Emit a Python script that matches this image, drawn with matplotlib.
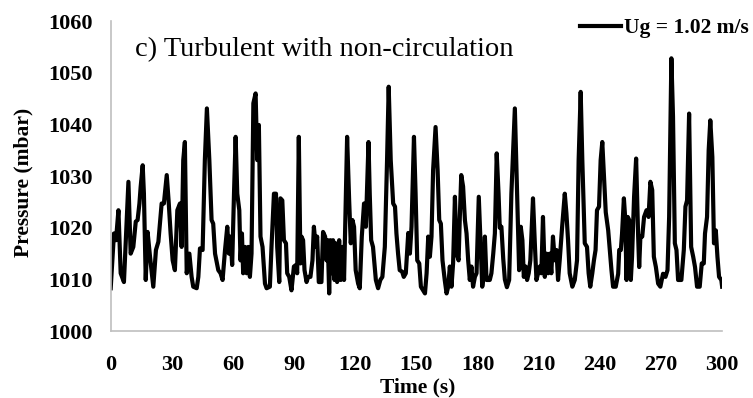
import matplotlib
matplotlib.use('Agg')
import matplotlib.pyplot as plt

# pressure trace (time in s, pressure in mbar)
time_s = [0.0, 1.6, 2.6, 3.8, 4.9, 6.5, 8.7, 9.8, 11.1, 12.3, 13.2, 14.1, 14.7, 15.7, 16.3,
          17.2, 18.1, 19.3, 20.9, 22.2, 23.4, 25.0, 26.1, 27.5, 28.4, 29.4, 30.4, 31.5, 32.7,
          34.0, 34.8, 35.6, 36.4, 37.3, 38.6, 39.7, 40.5, 42.2, 43.0, 43.8, 45.1, 46.2, 47.2,
          48.4, 49.5, 50.3, 51.2, 52.8, 53.9, 54.9, 56.1, 57.2, 58.0, 58.8, 59.6, 60.5, 61.3,
          62.1, 63.1, 63.7, 64.4, 65.0, 65.9, 66.7, 67.5, 68.3, 69.1, 70.0, 71.1, 71.9, 72.7,
          73.5, 74.5, 75.7, 76.5, 78.1, 78.9, 80.1, 81.1, 81.7, 82.7, 83.3, 84.2, 85.0, 86.0,
          86.6, 87.6, 88.7, 89.9, 90.9, 91.5, 92.3, 93.1, 93.6, 94.4, 95.1, 96.1, 96.9, 98.0,
          99.0, 99.7, 100.6, 101.3, 102.1, 103.4, 104.2, 105.2, 105.9, 106.5, 107.2, 107.8,
          108.6, 109.1, 109.8, 110.4, 111.1, 112.1, 112.9, 113.7, 114.5, 116.0, 117.0, 117.8,
          118.6, 119.4, 120.2, 121.4, 122.2, 123.2, 124.3, 125.2, 126.5, 127.1, 127.8, 128.7,
          130.1, 131.2, 132.3, 133.3, 134.5, 135.6, 136.4, 137.4, 138.6, 139.5, 140.2, 141.0,
          141.8, 143.0, 143.8, 144.8, 146.0, 146.8, 147.6, 148.8, 149.6, 150.4, 151.4, 152.2,
          153.3, 154.2, 155.0, 155.8, 156.6, 157.4, 158.2, 159.4, 160.4, 161.2, 162.0, 162.8,
          163.9, 164.8, 165.6, 166.4, 167.2, 168.0, 168.9, 169.7, 170.7, 171.3, 172.0, 172.9,
          173.8, 174.6, 175.4, 176.2, 177.0, 177.8, 178.7, 179.5, 180.6, 181.4, 182.3, 183.1,
          183.6, 184.4, 185.2, 186.0, 186.8, 187.7, 188.5, 189.4, 190.3, 190.9, 191.7, 192.6,
          193.4, 194.4, 195.5, 196.6, 198.3, 199.4, 200.4, 201.2, 202.0, 202.7, 203.6, 204.3,
          205.1, 205.9, 207.2, 208.1, 208.9, 209.7, 210.5, 211.3, 212.1, 213.0, 213.8, 214.6,
          215.4, 216.2, 217.0, 217.9, 218.7, 219.5, 220.3, 221.5, 222.8, 223.6, 224.4, 225.2,
          226.5, 227.7, 228.8, 229.6, 230.6, 231.4, 232.6, 233.7, 234.5, 235.3, 236.3, 237.1,
          237.9, 238.6, 239.6, 240.4, 241.2, 242.0, 242.9, 244.1, 244.9, 245.7, 246.5, 247.8,
          249.0, 249.5, 250.3, 250.9, 251.8, 252.4, 253.1, 253.7, 254.4, 255.2, 255.8, 256.8,
          257.8, 258.8, 259.3, 259.9, 260.8, 261.7, 262.9, 263.9, 264.8, 265.7, 266.5, 267.5,
          268.6, 269.7, 271.0, 272.2, 273.2, 274.0, 275.1, 275.9, 276.8, 277.6, 278.4, 280.0,
          281.2, 282.0, 282.8, 283.8, 284.8, 285.8, 286.7, 287.7, 289.0, 290.0, 291.0, 291.6,
          292.6, 293.4, 294.2, 295.2, 296.0, 296.9, 297.7, 298.5, 299.6, 300.0]
pressure_mbar = [1008.3, 1018.9, 1017.6, 1023.4, 1011.2, 1009.5, 1028.9, 1015.0, 1016.3, 1021.2,
                 1021.5, 1024.7, 1027.9, 1032.1, 1026.6, 1009.9, 1019.2, 1014.4, 1008.6, 1015.7,
                 1017.3, 1024.7, 1024.7, 1030.2, 1025.3, 1018.9, 1013.7, 1011.8, 1023.4, 1024.7,
                 1016.3, 1033.1, 1036.6, 1011.2, 1015.0, 1010.5, 1008.6, 1008.3, 1010.5, 1016.0,
                 1015.7, 1033.1, 1043.1, 1033.1, 1021.5, 1020.8, 1015.0, 1011.8, 1011.2, 1009.9,
                 1015.7, 1020.2, 1015.0, 1018.3, 1012.8, 1026.6, 1037.6, 1026.6, 1023.4, 1013.7,
                 1018.9, 1011.2, 1016.3, 1011.2, 1016.3, 1010.5, 1015.0, 1044.1, 1046.0, 1033.1,
                 1039.9, 1018.3, 1016.3, 1009.2, 1008.3, 1008.6, 1016.3, 1026.6, 1026.6, 1016.3,
                 1009.5, 1025.7, 1025.3, 1017.6, 1017.0, 1011.2, 1010.5, 1007.9, 1012.5, 1012.8,
                 1011.2, 1037.6, 1013.1, 1018.3, 1017.6, 1011.8, 1009.5, 1010.5, 1010.5, 1013.7,
                 1020.2, 1016.3, 1018.3, 1009.5, 1009.5, 1019.2, 1018.3, 1013.7, 1017.6, 1007.3,
                 1017.6, 1011.2, 1017.6, 1009.9, 1017.0, 1009.5, 1017.6, 1009.9, 1016.3, 1009.9,
                 1037.6, 1025.3, 1017.0, 1021.5, 1020.2, 1011.8, 1009.2, 1008.3, 1018.3, 1024.7,
                 1020.2, 1036.6, 1026.6, 1017.6, 1016.3, 1009.9, 1008.3, 1009.9, 1010.5, 1016.3,
                 1033.1, 1047.3, 1033.1, 1024.7, 1024.1, 1018.9, 1015.0, 1011.8, 1011.5, 1010.5,
                 1011.2, 1019.0, 1015.0, 1020.2, 1037.6, 1026.6, 1013.7, 1013.1, 1008.6, 1007.9,
                 1007.3, 1011.2, 1018.3, 1014.4, 1018.3, 1031.2, 1039.5, 1031.2, 1021.5, 1020.8,
                 1013.7, 1009.9, 1007.3, 1008.6, 1012.5, 1008.6, 1013.1, 1026.0, 1015.0, 1013.7,
                 1022.1, 1030.2, 1028.0, 1021.5, 1018.9, 1013.7, 1009.9, 1012.5, 1008.6, 1010.5,
                 1011.2, 1026.0, 1017.6, 1008.6, 1011.2, 1018.3, 1009.9, 1009.9, 1009.9, 1011.2,
                 1015.0, 1018.9, 1034.4, 1026.6, 1020.0, 1020.2, 1014.0, 1010.0, 1008.5, 1009.9,
                 1026.6, 1043.1, 1026.6, 1011.8, 1020.2, 1017.6, 1010.5, 1012.5, 1009.9, 1011.2,
                 1013.7, 1025.7, 1017.0, 1009.9, 1011.2, 1012.5, 1011.2, 1022.1, 1010.5, 1015.0,
                 1011.2, 1015.0, 1011.2, 1018.3, 1013.7, 1015.7, 1009.9, 1013.7, 1020.2, 1026.6,
                 1022.8, 1017.6, 1011.2, 1008.6, 1009.9, 1013.7, 1033.1, 1046.3, 1033.1, 1017.0,
                 1016.3, 1011.2, 1008.6, 1011.2, 1013.7, 1015.7, 1023.4, 1024.1, 1033.1, 1036.6,
                 1030.0, 1023.0, 1019.5, 1015.7, 1011.8, 1008.6, 1008.6, 1011.1, 1015.7, 1015.7,
                 1018.9, 1025.7, 1022.1, 1009.9, 1022.1, 1021.5, 1009.9, 1014.4, 1026.0, 1033.4,
                 1018.3, 1012.4, 1018.3, 1018.3, 1022.1, 1023.4, 1022.1, 1028.9, 1027.3, 1014.4,
                 1012.4, 1009.2, 1008.6, 1011.1, 1010.5, 1011.8, 1022.1, 1052.8, 1041.5, 1017.0,
                 1015.7, 1009.9, 1009.9, 1015.7, 1024.1, 1025.3, 1042.1, 1016.3, 1014.4, 1012.4,
                 1008.6, 1008.6, 1013.1, 1013.1, 1018.9, 1022.1, 1035.0, 1040.8, 1033.7, 1017.0,
                 1019.5, 1014.4, 1010.5, 1009.9, 1008.6]

x_ticks = [0, 30, 60, 90, 120, 150, 180, 210, 240, 270, 300]
y_ticks = [1000, 1010, 1020, 1030, 1040, 1050, 1060]
series_label = 'Ug = 1.02 m/s'
panel_title = 'c) Turbulent with non-circulation'

plt.rcParams['font.family'] = ['Liberation Serif', 'DejaVu Serif']

fig = plt.figure(figsize=(7.53, 3.98), dpi=100)
ax = fig.add_axes([0.147, 0.168, 0.812, 0.779])

ax.plot(time_s, pressure_mbar, color='black', lw=3.0, label=series_label,
        solid_joinstyle='round')

ax.set_xlim(0, 300)
ax.set_ylim(1000, 1060)
ax.set_xticks(x_ticks)
ax.set_yticks(y_ticks)
ax.tick_params(length=0, labelsize=16)
ax.tick_params(axis='x', pad=17)
ax.tick_params(axis='y', pad=13)
for lab in ax.get_xticklabels() + ax.get_yticklabels():
    lab.set_fontweight('bold')

for side in ['top', 'right']:
    ax.spines[side].set_visible(False)
for side in ['left', 'bottom']:
    ax.spines[side].set_color('#bfbfbf')
    ax.spines[side].set_linewidth(1.2)

ax.set_xlabel('Time (s)', fontsize=15.5, fontweight='bold')
ax.set_ylabel('Pressure (mbar)', fontsize=15.5, fontweight='bold')
ax.xaxis.set_label_coords(0.502, -0.15)
ax.yaxis.set_label_coords(-0.127, 0.48)

fig.text(135 / 753, 1 - 50 / 398, panel_title, fontsize=20.5, ha='left', va='center')

ax.legend(loc='center right', bbox_to_anchor=(749 / 753, 1 - 28 / 398),
          bbox_transform=fig.transFigure, frameon=False, borderaxespad=0, borderpad=0,
          handlelength=1.9, handletextpad=0.15, prop={'size': 15.5, 'weight': 'bold'})

plt.savefig('out.png', dpi=100)
